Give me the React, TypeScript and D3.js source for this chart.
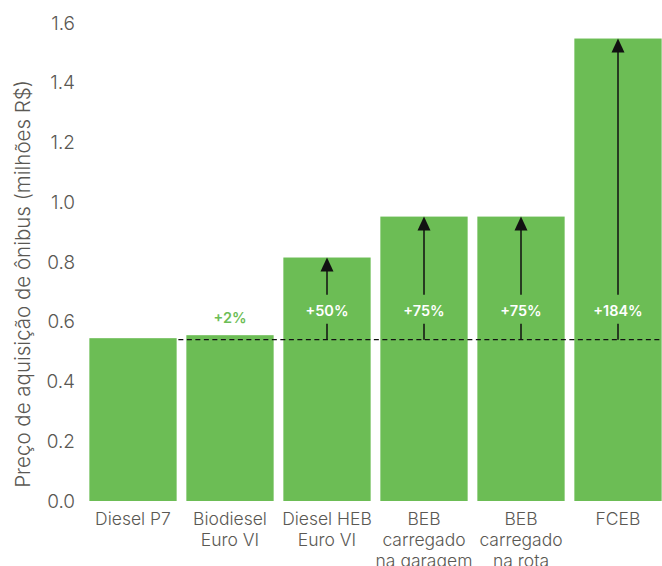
import React from "react";
import * as d3 from "d3";

const categories: string[][] = [
  ["Diesel P7"],
  ["Biodiesel", "Euro VI"],
  ["Diesel HEB", "Euro VI"],
  ["BEB", "carregado", "na garagem"],
  ["BEB", "carregado", "na rota"],
  ["FCEB"],
];
const values: number[] = [0.545, 0.555, 0.815, 0.952, 0.952, 1.548];
const changeLabels: (string | null)[] = [null, "+2%", "+50%", "+75%", "+75%", "+184%"];
const yTicks: number[] = [0, 0.2, 0.4, 0.6, 0.8, 1.0, 1.2, 1.4, 1.6];
const baselineValue = 0.54;
const arrowLabelValue = 0.637;

const W = 662;
const H = 566;
const GREEN = "#6cbd55";
const TEXT = "#5a5853";
const FONT = "Inter, 'Noto Sans', sans-serif";

export default function App() {
  const x = d3
    .scaleBand<number>()
    .domain(d3.range(categories.length))
    .range([84.5, 666.5])
    .paddingInner(0.1)
    .paddingOuter(0.05);
  const y = d3.scaleLinear().domain([0, 1.6]).range([501, 23]);
  const bw = x.bandwidth();
  const yBase = y(baselineValue);
  const yLab = y(arrowLabelValue);

  return (
    <svg
      width={W}
      height={H}
      style={{ position: "absolute", left: 0, top: 0, background: "#fff" }}
      fontFamily={FONT}
    >
      {yTicks.map((t) => (
        <text
          key={t}
          x={75}
          y={y(t)}
          dy="0.35em"
          textAnchor="end"
          fontSize={19}
          fontWeight={300}
          fill={TEXT}
        >
          {t.toFixed(1)}
        </text>
      ))}
      <text
        transform={`translate(30,284) rotate(-90)`}
        textAnchor="middle"
        fontSize={20.5}
        fontWeight={300}
        fill={TEXT}
      >
        Preço de aquisição de ônibus (milhões R$)
      </text>
      {values.map((v, i) => (
        <rect
          key={i}
          x={x(i)!}
          y={y(v)}
          width={bw}
          height={y(0) - y(v)}
          fill={GREEN}
        />
      ))}
      {categories.map((lines, i) => (
        <text
          key={i}
          x={x(i)! + bw / 2}
          y={525}
          textAnchor="middle"
          fontSize={17.5}
          fontWeight={300}
          fill={TEXT}
        >
          {lines.map((l, j) => (
            <tspan key={j} x={x(i)! + bw / 2} dy={j === 0 ? 0 : 21}>
              {l}
            </tspan>
          ))}
        </text>
      ))}
      <line
        x1={x(1)! - 8}
        x2={660}
        y1={yBase}
        y2={yBase}
        stroke="#111"
        strokeWidth={1.2}
        strokeDasharray="5,3.5"
      />
      {values.map((v, i) => {
        const lab = changeLabels[i];
        if (!lab) return null;
        const cx = x(i)! + bw / 2;
        if (i === 1) {
          return (
            <text
              key={i}
              x={cx}
              y={y(v) - 17}
              dy="0.35em"
              textAnchor="middle"
              fontSize={14.5}
              fontWeight={600}
              fill={GREEN}
            >
              {lab}
            </text>
          );
        }
        const top = y(v);
        const headH = 14;
        return (
          <g key={i}>
            <line x1={cx} x2={cx} y1={yBase} y2={yLab + 13} stroke="#111" strokeWidth={1.5} />
            <line x1={cx} x2={cx} y1={yLab - 16} y2={top + headH - 1} stroke="#111" strokeWidth={1.5} />
            <path
              d={`M${cx},${top} L${cx - 6.5},${top + headH} L${cx + 6.5},${top + headH} Z`}
              fill="#111"
            />
            <text
              x={cx}
              y={yLab}
              dy="0.35em"
              textAnchor="middle"
              fontSize={14.5}
              fontWeight={600}
              fill="#fff"
            >
              {lab}
            </text>
          </g>
        );
      })}
    </svg>
  );
}
